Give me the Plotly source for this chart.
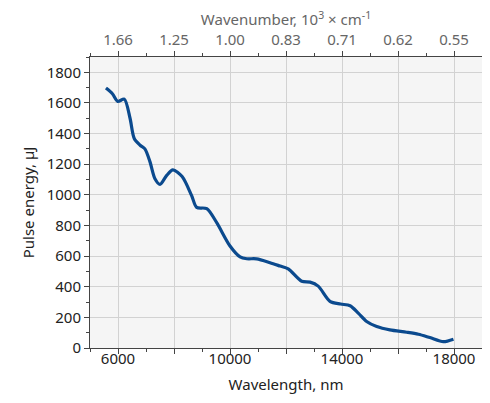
import plotly.graph_objects as go

wavelength_nm = [5570, 5800, 5990, 6225, 6430, 6580, 6790, 6960, 7140, 7320, 7500, 7740,
                 7960, 8290, 8630, 8810, 9170, 9520, 10000, 10360, 10600, 10950, 11430,
                 11790, 12080, 12560, 12860, 13150, 13570, 13950, 14290, 14580, 14880,
                 15240, 15710, 16310, 16730, 17140, 17620, 17980]
pulse_energy_uj = [1697, 1660, 1610, 1625, 1500, 1368, 1324, 1300, 1217, 1105, 1068, 1127,
                   1163, 1120, 995, 918, 910, 820, 666, 595, 583, 582, 557,
                   535, 517, 436, 430, 404, 305, 287, 276, 228, 173,
                   140, 118, 103, 90, 68, 41, 57]

grid_tickvals = [6000, 8000, 10000, 12000, 14000, 16000, 18000]
bottom_label_vals = [6000, 10000, 14000, 18000]
bottom_label_text = ["6000", "10000", "14000", "18000"]
top_ticktext = ["1.66", "1.25", "1.00", "0.83", "0.71", "0.62", "0.55"]
y_tickvals = [0, 200, 400, 600, 800, 1000, 1200, 1400, 1600, 1800]
x_range = [5000, 19000]
y_range = [0, 1900]

FONT = "Noto Sans, Open Sans, sans-serif"

fig = go.Figure()
fig.add_trace(go.Scatter(x=wavelength_nm, y=pulse_energy_uj, mode="lines",
                         line=dict(color="#0b4a8e", width=3.2, shape="spline", smoothing=0.8),
                         showlegend=False, hoverinfo="skip"))
for ax in ("x2", "x3"):
    fig.add_trace(go.Scatter(x=wavelength_nm, y=pulse_energy_uj, mode="lines", xaxis=ax,
                             line=dict(color="rgba(0,0,0,0)", width=0),
                             showlegend=False, hoverinfo="skip"))

axis_common = dict(showline=True, linecolor="#444", linewidth=1, mirror=False,
                   ticks="outside", ticklen=5, tickcolor="#444", zeroline=False,
                   automargin=False)

fig.update_layout(
    width=490, height=403,
    margin=dict(l=82, r=16, t=49, b=63),
    paper_bgcolor="white", plot_bgcolor="#f5f5f5",
    font=dict(family=FONT, size=15, color="#222"),
    xaxis=dict(range=x_range, tickvals=grid_tickvals, showticklabels=False,
               showgrid=True, gridcolor="#d2d2d2", gridwidth=1,
               minor=dict(ticks="outside", ticklen=3, tick0=5000, dtick=1000, tickcolor="#444", showgrid=False),
               title=dict(text="Wavelength, nm", standoff=26, font=dict(size=15)),
               **axis_common),
    xaxis3=dict(range=x_range, overlaying="x", side="bottom", anchor="y",
                tickvals=bottom_label_vals, ticktext=bottom_label_text, showgrid=False,
                showline=False, ticks="", zeroline=False, automargin=False,
                tickfont=dict(size=15, color="#222")),
    xaxis2=dict(range=x_range, overlaying="x", side="top", anchor="y",
                tickvals=grid_tickvals, ticktext=top_ticktext, showgrid=False,
                minor=dict(ticks="outside", ticklen=3, tick0=5000, dtick=1000, tickcolor="#444"),
                tickfont=dict(size=15, color="#666"),
                title=dict(text="Wavenumber, 10<sup>3</sup> × cm<sup>-1</sup>", standoff=9,
                           font=dict(size=15, color="#666")),
                **axis_common),
    yaxis=dict(range=y_range, tickvals=y_tickvals, showgrid=True, gridcolor="#d2d2d2", gridwidth=1,
               minor=dict(ticks="outside", ticklen=3, tick0=0, dtick=100, tickcolor="#444", showgrid=False),
               title=dict(text="Pulse energy, µJ", standoff=8, font=dict(size=15)),
               tickfont=dict(size=15), **axis_common),
)

fig.write_html("out.html")
